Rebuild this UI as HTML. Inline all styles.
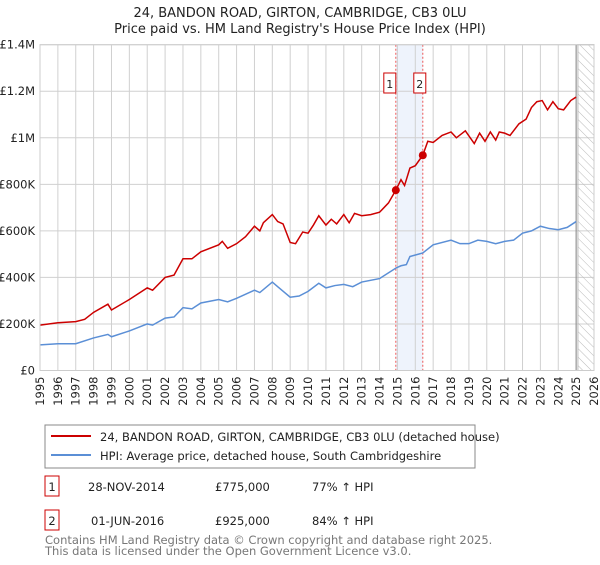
<!DOCTYPE html>
<html><head><meta charset="utf-8"><style>
body{margin:0;background:#fff;font-family:"Liberation Sans","DejaVu Sans",sans-serif;}
svg text{font-family:"DejaVu Sans","Liberation Sans",sans-serif;}
</style></head><body>
<svg id="c" width="600" height="560" viewBox="0 0 600 560">
<defs><pattern id="hatch" width="6" height="6" patternUnits="userSpaceOnUse" patternTransform="rotate(-45)"><line x1="0" y1="0" x2="0" y2="6" stroke="#bbb" stroke-width="1"/></pattern></defs>
<text x="300" y="17" text-anchor="middle" font-size="13" fill="#222">24, BANDON ROAD, GIRTON, CAMBRIDGE, CB3 0LU</text>
<text x="300" y="33" text-anchor="middle" font-size="13" fill="#222">Price paid vs. HM Land Registry's House Price Index (HPI)</text>
<g id="plot"></g>
<rect x="45" y="425" width="430" height="43" fill="#fff" stroke="#888"/>
<line x1="51" y1="436" x2="91" y2="436" stroke="#cc0000" stroke-width="2"/>
<text x="100" y="441" font-size="11.5" fill="#222">24, BANDON ROAD, GIRTON, CAMBRIDGE, CB3 0LU (detached house)</text>
<line x1="51" y1="455" x2="91" y2="455" stroke="#5b8fd6" stroke-width="2"/>
<text x="100" y="460" font-size="11.5" fill="#222">HPI: Average price, detached house, South Cambridgeshire</text>
<g font-size="11.5" fill="#222">
<rect x="45" y="476" width="14" height="20" fill="none" stroke="#cc0000"/>
<text x="52" y="491" text-anchor="middle">1</text>
<text x="88" y="491">28-NOV-2014</text>
<text x="215" y="491">£775,000</text>
<text x="312" y="491">77% ↑ HPI</text>
<rect x="45" y="510" width="14" height="20" fill="none" stroke="#cc0000"/>
<text x="52" y="525" text-anchor="middle">2</text>
<text x="91" y="525">01-JUN-2016</text>
<text x="215" y="525">£925,000</text>
<text x="312" y="525">84% ↑ HPI</text>
</g>
<text x="45" y="544" font-size="11.5" fill="#777">Contains HM Land Registry data © Crown copyright and database right 2025.</text>
<text x="45" y="555" font-size="11.5" fill="#777">This data is licensed under the Open Government Licence v3.0.</text>
</svg>
<script>
const yTicks=[0,200000,400000,600000,800000,1000000,1200000,1400000];
const yLabels=["£0","£200K","£400K","£600K","£800K","£1M","£1.2M","£1.4M"];
const years=[1995,1996,1997,1998,1999,2000,2001,2002,2003,2004,2005,2006,2007,2008,2009,2010,2011,2012,2013,2014,2015,2016,2017,2018,2019,2020,2021,2022,2023,2024,2025,2026];
const redT=[1995,1996,1997,1997.5,1998,1998.8,1999,2000,2001,2001.3,2002,2002.5,2003,2003.5,2004,2005,2005.2,2005.5,2006,2006.5,2007,2007.3,2007.5,2008,2008.3,2008.6,2009,2009.3,2009.7,2010,2010.3,2010.6,2011,2011.3,2011.6,2012,2012.3,2012.6,2013,2013.5,2014,2014.5,2014.91,2015.2,2015.4,2015.7,2016,2016.42,2016.7,2017,2017.5,2018,2018.3,2018.8,2019.3,2019.6,2019.9,2020.2,2020.5,2020.7,2021,2021.3,2021.8,2022.2,2022.5,2022.8,2023.1,2023.4,2023.7,2024,2024.3,2024.7,2025];
const redV=[195,205,210,220,250,285,260,305,355,345,400,410,480,480,510,540,555,525,545,575,620,600,635,670,640,630,550,545,595,590,625,665,625,650,630,670,635,675,665,670,680,720,775,820,795,870,880,925,985,980,1010,1025,1000,1030,975,1020,985,1025,990,1025,1020,1010,1060,1080,1130,1155,1160,1120,1155,1125,1120,1160,1175];
const hpiT=[1995,1996,1997,1998,1998.8,1999,2000,2001,2001.3,2002,2002.5,2003,2003.5,2004,2005,2005.5,2006,2007,2007.3,2008,2008.3,2009,2009.5,2010,2010.6,2011,2011.5,2012,2012.5,2013,2014,2014.91,2015.2,2015.5,2015.7,2016.42,2017,2018,2018.5,2019,2019.5,2020,2020.5,2021,2021.5,2022,2022.5,2023,2023.5,2024,2024.5,2025];
const hpiV=[110,115,115,140,155,145,170,200,195,225,230,270,265,290,305,295,310,345,335,380,360,315,320,340,375,355,365,370,360,380,395,440,450,455,490,505,540,560,545,545,560,555,545,555,560,590,600,620,610,605,615,640];
const sales=[{t:2014.91,v:775000,n:"1"},{t:2016.42,v:925000,n:"2"}];
const X0=40,X1=594,Y0=370.5,Y1=44.7;
const xs=t=>X0+(t-1995)/(2026-1995)*(X1-X0);
const ys=v=>Y0-v/1400000*(Y0-Y1);
const g=document.getElementById('plot');
const NS="http://www.w3.org/2000/svg";
function mk(tag,attrs,parent){const e=document.createElementNS(NS,tag);for(const k in attrs)e.setAttribute(k,attrs[k]);(parent||g).appendChild(e);return e;}
let e;
e=mk('rect',{x:xs(sales[0].t),y:Y1,width:xs(sales[1].t)-xs(sales[0].t),height:Y0-Y1,fill:'#eef3fc'});


years.forEach(y=>{e=mk('line',{x1:xs(y),x2:xs(y),y1:Y1,y2:Y0,stroke:'#d0d0d0'});


e=mk('text',{x:0,y:0,'font-size':11.5,fill:'#222','text-anchor':'end',transform:`translate(${xs(y)+4},${Y0+6}) rotate(-90)`});e.textContent=y;

});
yTicks.forEach((v,i)=>{e=mk('line',{x1:X0,x2:X1,y1:ys(v),y2:ys(v),stroke:'#d0d0d0'});


e=mk('text',{x:X0-5,y:ys(v)+4,'font-size':11.5,fill:'#222','text-anchor':'end'});e.textContent=yLabels[i];

});
e=mk('rect',{x:xs(2025.1),y:Y1,width:X1-xs(2025.1),height:Y0-Y1,fill:'url(#hatch)',stroke:'#bbb'});


e=mk('line',{x1:xs(2025),x2:xs(2025),y1:Y1,y2:Y0,stroke:'#888'});


sales.forEach(s=>{e=mk('line',{x1:xs(s.t),x2:xs(s.t),y1:Y1,y2:Y0,stroke:'#ee5555','stroke-dasharray':'2,2'});

});
function path(T,V,color,name){e=mk('polyline',{points:T.map((t,i)=>xs(t)+','+ys(V[i]*1000)).join(' '),fill:'none',stroke:color,'stroke-width':1.5});

}
path(hpiT,hpiV,'#5b8fd6','hpi-line');
path(redT,redV,'#cc0000','property-line');
mk('rect',{x:X0,y:Y1,width:X1-X0,height:Y0-Y1,fill:'none',stroke:'#ccc'});
sales.forEach((s,i)=>{e=mk('circle',{cx:xs(s.t),cy:ys(s.v),r:4,fill:'#cc0000'});


const bx=i==0?xs(s.t)-12:xs(s.t)-9;
e=mk('rect',{x:bx,y:73,width:12,height:20,fill:'#fff',stroke:'#cc0000'});


e=mk('text',{x:bx+6,y:88,'font-size':11,fill:'#222','text-anchor':'middle'});e.textContent=s.n;

});
</script>
</body></html>
